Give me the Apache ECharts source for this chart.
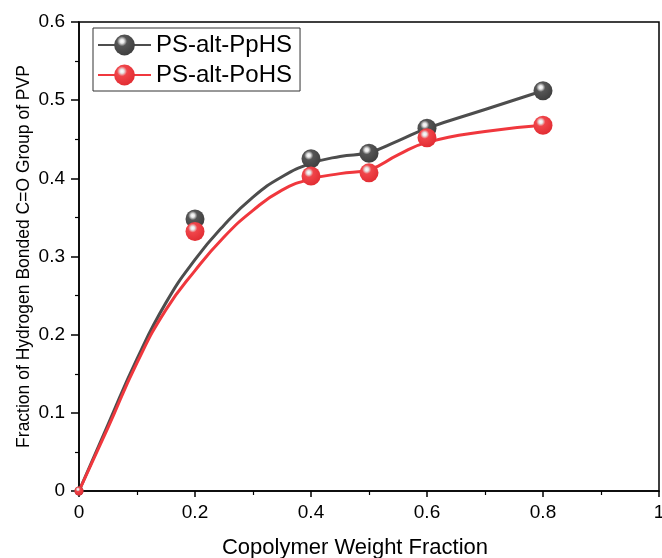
<!DOCTYPE html>
<html>
<head>
    <meta charset="utf-8">
    <script src="https://cdn.jsdelivr.net/npm/echarts@6/dist/echarts.min.js"></script>
    <style>
        html, body { margin: 0; padding: 0; background: #fff; }
        #chart { width: 662px; height: 558px; }
    </style>
</head>
<body>
    <div id="chart"></div>
    <script>
        // measured points
        let xPoints = [0, 0.2, 0.4, 0.5, 0.6, 0.8];
        let ppHS = [0, 0.348, 0.425, 0.432, 0.464, 0.512];
        let poHS = [0, 0.332, 0.403, 0.407, 0.452, 0.468];

        // fitted curves
        let fitX = [0, 0.05, 0.1, 0.15, 0.2, 0.25, 0.3, 0.35, 0.4, 0.45, 0.5, 0.55, 0.6, 0.7, 0.8];
        let fitPpHS = [0, 0.085, 0.169, 0.241, 0.296, 0.340, 0.376, 0.402, 0.419, 0.428, 0.433, 0.448, 0.464, 0.488, 0.512];
        let fitPoHS = [0, 0.081, 0.164, 0.232, 0.282, 0.325, 0.359, 0.385, 0.399, 0.406, 0.411, 0.430, 0.446, 0.460, 0.468];

        let xTicks = ['0', '0.2', '0.4', '0.6', '0.8', '1'];

        let font = "'Liberation Sans', Arial, sans-serif";

        function pair(xs, ys) {
            let out = [];
            for (i = 0; i < xs.length; ++i) {
                out.push([xs[i], ys[i]]);
            }
            return out;
        }

        function sphere(base, dark) {
            return {
                type: 'radial', x: 0.38, y: 0.32, r: 0.75,
                colorStops: [
                    { offset: 0, color: '#ffffff' },
                    { offset: 0.13, color: '#e6e6e6' },
                    { offset: 0.32, color: base },
                    { offset: 1, color: dark }
                ]
            };
        }

        let black = '#4d4d4d';
        let red = '#f0373d';
        let blackBall = sphere('#555555', '#3c3c3c');
        let redBall = sphere('#f0454a', '#e02a30');

        function markSize(val) {
            return val[0] === 0 ? 9 : 19;
        }

        chart = echarts.init(document.getElementById('chart'));
        option = {
            animation: false,
            textStyle: { fontFamily: font },
            grid: {
                left: 79, right: 3, top: 22, bottom: 67,
                outerBoundsMode: 'none', containLabel: false,
                show: true, borderColor: '#000', borderWidth: 1.5
            },
            legend: {
                orient: 'vertical',
                left: 93, top: 28,
                padding: [5, 8, 4, 4],
                borderColor: '#333', borderWidth: 1,
                itemWidth: 53, itemHeight: 26, itemGap: 6,
                textStyle: { fontSize: 24, color: '#000', fontFamily: font },
                data: ['PS-alt-PpHS', 'PS-alt-PoHS']
            },
            xAxis: {
                type: 'value', min: 0, max: 1, interval: 0.2,
                name: 'Copolymer Weight Fraction',
                nameLocation: 'middle', nameGap: 46, nameMoveOverlap: false,
                nameTextStyle: { fontSize: 22, color: '#000', padding: [0, 28, 0, 0] },
                axisLine: { lineStyle: { color: '#000', width: 1.5 } },
                axisTick: { show: true, length: 6, lineStyle: { color: '#000', width: 1.5 } },
                minorTick: { show: true, splitNumber: 2, length: 4, lineStyle: { color: '#000', width: 1.2 } },
                axisLabel: {
                    fontSize: 19, color: '#000', margin: 12,
                    formatter: function (v) { return xTicks[Math.round(v * 5)]; }
                },
                splitLine: { show: false }
            },
            yAxis: {
                type: 'value', min: 0, max: 0.6, interval: 0.1,
                name: 'Fraction of Hydrogen Bonded C=O Group of PVP',
                nameLocation: 'middle', nameGap: 46, nameMoveOverlap: false,
                nameTextStyle: { fontSize: 17.5, color: '#000' },
                axisLine: { lineStyle: { color: '#000', width: 1.5 } },
                axisTick: { show: true, length: 8, lineStyle: { color: '#000', width: 1.5 } },
                minorTick: { show: true, splitNumber: 2, length: 4, lineStyle: { color: '#000', width: 1.2 } },
                axisLabel: { fontSize: 19, color: '#000', margin: 14 },
                splitLine: { show: false }
            },
            series: [
                {
                    name: 'PS-alt-PpHS', type: 'line', smooth: 0.5,
                    data: pair(fitX, fitPpHS),
                    showSymbol: false, symbol: 'circle', symbolSize: 20,
                    lineStyle: { color: black, width: 3 },
                    itemStyle: { color: blackBall },
                    z: 2
                },
                {
                    name: 'PS-alt-PoHS', type: 'line', smooth: 0.5,
                    data: pair(fitX, fitPoHS),
                    showSymbol: false, symbol: 'circle', symbolSize: 20,
                    lineStyle: { color: red, width: 3 },
                    itemStyle: { color: redBall },
                    z: 2
                },
                {
                    name: 'PpHS points', type: 'scatter',
                    data: pair(xPoints, ppHS),
                    symbolSize: markSize,
                    itemStyle: { color: blackBall, opacity: 1 },
                    z: 3
                },
                {
                    name: 'PoHS points', type: 'scatter',
                    data: pair(xPoints, poHS),
                    symbolSize: markSize,
                    itemStyle: { color: redBall, opacity: 1 },
                    z: 4
                }
            ]
        };
        chart.setOption(option);
    </script>
</body>
</html>
